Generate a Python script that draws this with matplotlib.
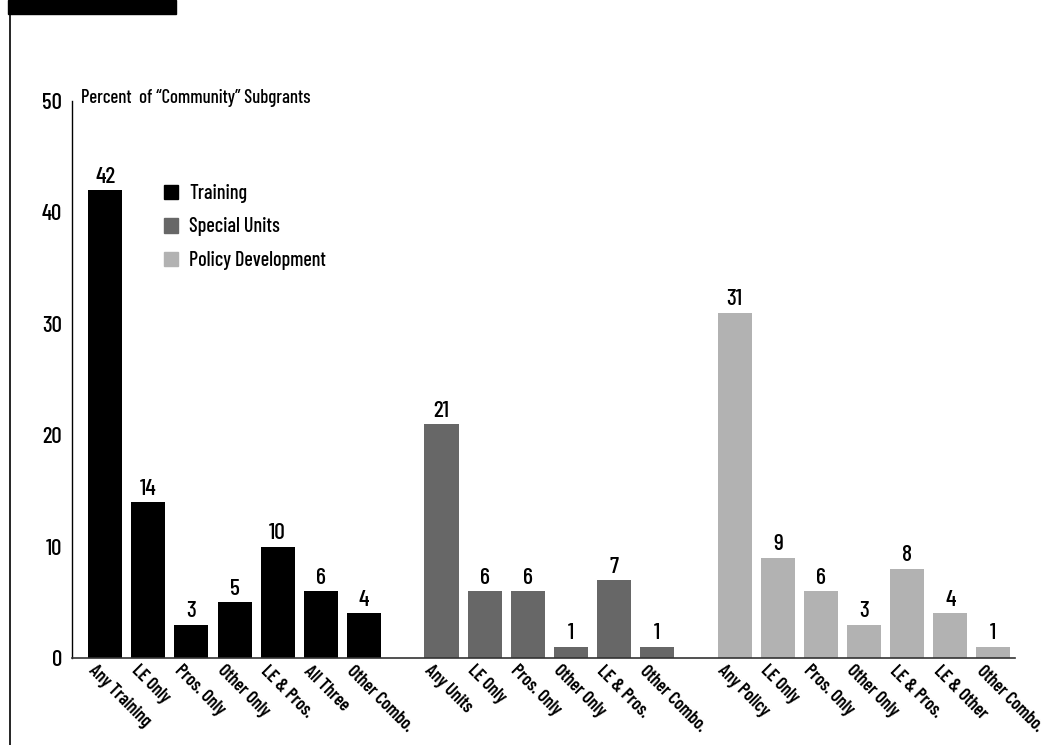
import matplotlib.pyplot as plt
from matplotlib.patches import Patch, Rectangle
from matplotlib.lines import Line2D

# data
training_labels = ["Any Training", "LE Only", "Pros. Only", "Other Only", "LE & Pros.", "All Three", "Other Combo."]
training_values = [42, 14, 3, 5, 10, 6, 4]
units_labels = ["Any Units", "LE Only", "Pros. Only", "Other Only", "LE & Pros.", "Other Combo."]
units_values = [21, 6, 6, 1, 7, 1]
policy_labels = ["Any Policy", "LE Only", "Pros. Only", "Other Only", "LE & Pros.", "LE & Other", "Other Combo."]
policy_values = [31, 9, 6, 3, 8, 4, 1]

colors = {"Training": "#000000", "Special Units": "#676767", "Policy Development": "#b2b2b2"}

plt.rcParams["font.family"] = ["Barlow Condensed", "Roboto Condensed", "DejaVu Sans"]
plt.rcParams["font.weight"] = "medium"

W, H = 1042, 745
fig = plt.figure(figsize=(W / 100, H / 100), dpi=100)
ax = fig.add_axes([72 / W, 1 - 658 / H, (1015 - 72) / W, (658 - 101) / H])

groups = [
    ("Training", training_labels, training_values, 0.0),
    ("Special Units", units_labels, units_values, 7.8),
    ("Policy Development", policy_labels, policy_values, 14.6),
]

for name, labels, values, start in groups:
    xs = [start + i for i in range(len(values))]
    ax.bar(xs, values, width=0.79, color=colors[name])
    for x, v, lab in zip(xs, values, labels):
        ax.annotate(str(v), (x, v), xytext=(0, 2.5), textcoords="offset points",
                    ha="center", va="bottom", fontsize=17)
        ax.text(x - 0.2, -0.4, lab, rotation=-45, rotation_mode="anchor",
                ha="left", va="top", fontsize=13, fontweight="semibold")

ax.set_xlim(-0.77, 21.1)
ax.set_ylim(0, 50)
ax.set_xticks([])
ax.set_yticks([0, 10, 20, 30, 40, 50])
ax.tick_params(axis="y", length=0, pad=7, labelsize=16.5)
for s in ["top", "right"]:
    ax.spines[s].set_visible(False)
ax.spines["left"].set_color("black")
ax.spines["left"].set_linewidth(1.0)
ax.spines["bottom"].set_color("#333333")
ax.spines["bottom"].set_linewidth(1.2)

fig.text(81 / W, 1 - 103 / H, "Percent  of \u201cCommunity\u201d Subgrants",
         ha="left", va="baseline", fontsize=13.5)

handles = [Patch(color=colors[n]) for n in colors]
fig.legend(handles, list(colors), loc="upper left", bbox_to_anchor=(164 / W, 1 - 184 / H),
           frameon=False, fontsize=14.5, handlelength=0.7, handleheight=0.7,
           handletextpad=0.55, labelspacing=0.72, borderpad=0, borderaxespad=0)

# decorations from the page
fig.add_artist(Rectangle((8 / W, 1 - 14 / H), 168 / W, 14 / H,
                         transform=fig.transFigure, color="black"))
fig.add_artist(Line2D([9.5 / W, 9.5 / W], [0, 1 - 14 / H],
                      transform=fig.transFigure, color="black", linewidth=1.2))

fig.savefig("out.png", dpi=100)
